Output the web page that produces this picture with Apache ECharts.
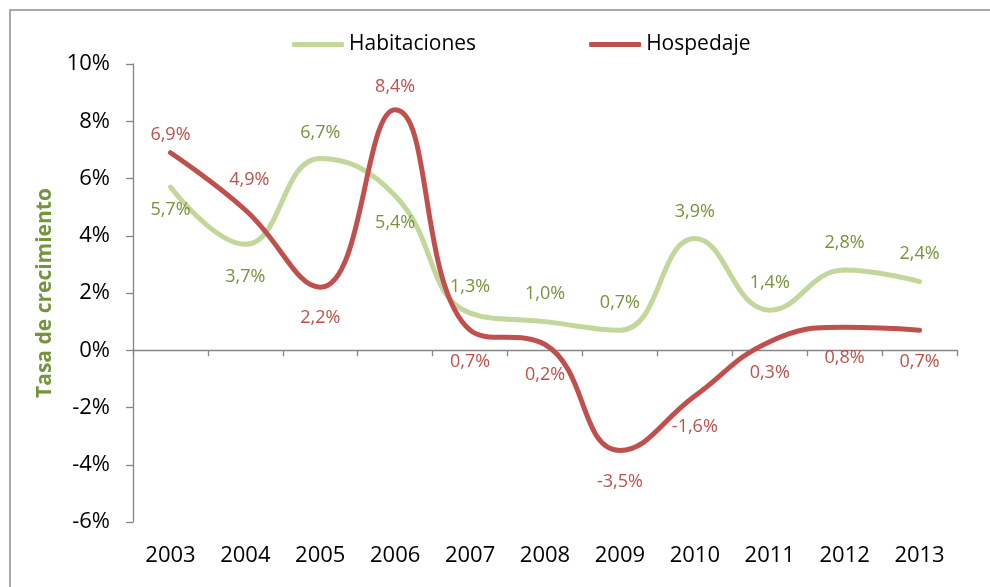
<!DOCTYPE html>
<html><head><meta charset="utf-8">
<script src="https://cdn.jsdelivr.net/npm/echarts@6/dist/echarts.min.js"></script>
<style>html,body{margin:0;padding:0;background:#fff}#c{width:990px;height:587px}</style>
</head><body><div id="c"></div>
<script>
const years = ['2003','2004','2005','2006','2007','2008','2009','2010','2011','2012','2013'];
const habitaciones = [5.7, 3.7, 6.7, 5.4, 1.3, 1.0, 0.7, 3.9, 1.4, 2.8, 2.4];
const hospedaje = [6.9, 4.9, 2.2, 8.4, 0.7, 0.2, -3.5, -1.6, 0.3, 0.8, 0.7];
// label placement (vertical offset of label centre from the point, px)
const habLabelDy = [23, 33, -26, 27, -26, -28, -27, -27, -27, -27, -28];
const hosLabelDy = [-18, -30, 31, -23, 32, 30, 31, 31, 31, 31, 32];
const hosLabelDx = [0, 4, 0, 0, 0, 0, 0, 0, 0, 0, 0];

const FONT = 'Open Sans';
const fmt = v => v.toFixed(1).replace('.', ',') + '%';
function mk(vals, dy, dx) {
  return vals.map((v, i) => ({ value: v, label: { position: 'inside', offset: [dx ? dx[i] : 0, dy[i]] } }));
}
const chart = echarts.init(document.getElementById('c'));
chart.setOption({
  animation: false,
  textStyle: { fontFamily: FONT },
  graphic: [{ type: 'rect', shape: { x: 10, y: 10, width: 1000, height: 600 }, style: { fill: 'none', stroke: '#8c8c8c', lineWidth: 1.5 }, silent: true }],
  legend: {
    left: 287, top: 29, itemWidth: 52, itemHeight: 5, itemGap: 113,
    icon: 'roundRect',
    textStyle: { fontFamily: FONT, fontSize: 21, color: '#000' },
    data: ['Habitaciones', 'Hospedaje']
  },
  grid: { left: 133, right: 33, top: 64, bottom: 65 },
  xAxis: [{
    type: 'category', data: years, boundaryGap: true,
    axisLine: { onZero: true, lineStyle: { color: '#868686', width: 1.3 } },
    axisTick: { show: true, length: 6, lineStyle: { color: '#868686', width: 1.3 } },
    axisLabel: { show: false }
  }, {
    type: 'category', data: years, boundaryGap: true, position: 'bottom',
    axisLine: { show: false, onZero: false }, axisTick: { show: false },
    axisLabel: { fontFamily: FONT, fontSize: 22, color: '#000', margin: 23 }
  }],
  yAxis: {
    type: 'value', min: -6, max: 10, interval: 2,
    name: 'Tasa de crecimiento', nameLocation: 'middle', nameGap: 75,
    nameTextStyle: { fontFamily: FONT, fontSize: 21, fontWeight: 'bold', color: '#77933c' },
    axisLine: { show: true, lineStyle: { color: '#868686', width: 1.3 } },
    axisTick: { show: true, length: 7, lineStyle: { color: '#868686', width: 1.3 } },
    axisLabel: { formatter: v => v + '%', fontFamily: FONT, fontSize: 22, color: '#000', margin: 23 },
    splitLine: { show: false }
  },
  series: [{
    name: 'Habitaciones', type: 'line', smooth: 0.45, showSymbol: true, symbol: 'circle', symbolSize: 1,
    data: mk(habitaciones, habLabelDy),
    lineStyle: { color: '#c3d69b', width: 5, cap: 'round' }, itemStyle: { color: '#c3d69b' },
    label: { show: true, formatter: p => fmt(p.value), color: '#77933c', fontFamily: FONT, fontSize: 18 },
    z: 2
  }, {
    name: 'Hospedaje', type: 'line', smooth: 0.45, showSymbol: true, symbol: 'circle', symbolSize: 1,
    data: mk(hospedaje, hosLabelDy, hosLabelDx),
    lineStyle: { color: '#c0504d', width: 5, cap: 'round' }, itemStyle: { color: '#c0504d' },
    label: { show: true, formatter: p => fmt(p.value), color: '#c0504d', fontFamily: FONT, fontSize: 18 },
    z: 3
  }]
});
</script></body></html>
